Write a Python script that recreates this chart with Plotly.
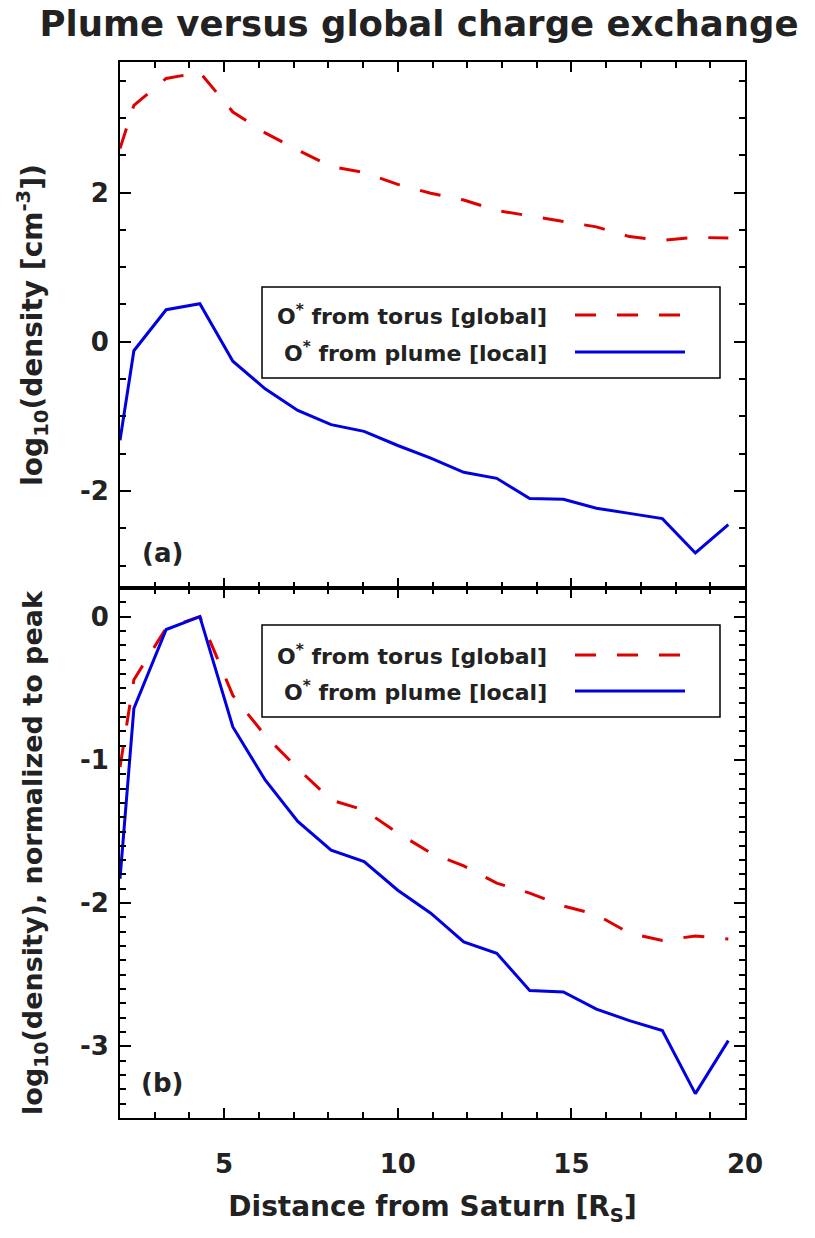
import plotly.graph_objects as go

# ---------------- data ----------------
distance = [2.0, 2.4, 3.33, 4.3, 5.25, 6.18, 7.12, 8.08, 9.03, 10.0,
            10.95, 11.9, 12.85, 13.8, 14.77, 15.72, 16.67, 17.62, 18.57, 19.52]

torus_log_density = [2.59, 3.17, 3.53, 3.61, 3.08, 2.80, 2.57, 2.35, 2.27, 2.11,
                     1.99, 1.90, 1.76, 1.69, 1.61, 1.54, 1.41, 1.36, 1.40, 1.39]
plume_log_density = [-1.32, -0.12, 0.43, 0.51, -0.26, -0.63, -0.92, -1.11, -1.20, -1.39,
                     -1.56, -1.75, -1.83, -2.10, -2.11, -2.23, -2.30, -2.37, -2.83, -2.45]

torus_normalized = [-1.05, -0.44, -0.08, 0.0, -0.55, -0.83, -1.06, -1.28, -1.35, -1.51,
                    -1.65, -1.74, -1.86, -1.93, -2.02, -2.08, -2.21, -2.26, -2.23, -2.25]
plume_normalized = [-1.83, -0.64, -0.09, 0.0, -0.77, -1.14, -1.43, -1.63, -1.71, -1.91,
                    -2.07, -2.27, -2.35, -2.61, -2.62, -2.74, -2.82, -2.89, -3.33, -2.96]

series_names = ["O<sup>*</sup> from torus [global]", "O<sup>*</sup> from plume [local]"]
x_ticks = [5, 10, 15, 20]
y_ticks_top = [-2, 0, 2]
y_ticks_bottom = [-3, -2, -1, 0]

# ---------------- layout geometry (page pixels) ----------------
W, H = 815, 1238
L, R, T, B = 120, 745, 62, 1118
PW, PH = R - L, B - T
SPLIT = 588
split_frac = (B - SPLIT) / PH

RED = "#e00000"
BLUE = "#0000e0"
TXT = "#222222"
FONT = "DejaVu Sans, Verdana, sans-serif"
DASH = "21px,21px"


def px(xp):
    return (xp - L) / PW


def py(yp):
    return (B - yp) / PH


def lab(v):
    return f"<b>{v}</b>"


fig = go.Figure()

fig.add_trace(go.Scatter(x=distance, y=torus_log_density, mode="lines",
                         line=dict(color=RED, width=3, dash=DASH),
                         xaxis="x", yaxis="y", name=series_names[0], showlegend=False))
fig.add_trace(go.Scatter(x=distance, y=plume_log_density, mode="lines",
                         line=dict(color=BLUE, width=3),
                         xaxis="x", yaxis="y", name=series_names[1], showlegend=False))
fig.add_trace(go.Scatter(x=distance, y=torus_normalized, mode="lines",
                         line=dict(color=RED, width=3, dash=DASH),
                         xaxis="x2", yaxis="y2", name=series_names[0], showlegend=False))
fig.add_trace(go.Scatter(x=distance, y=plume_normalized, mode="lines",
                         line=dict(color=BLUE, width=3),
                         xaxis="x2", yaxis="y2", name=series_names[1], showlegend=False))

tickfont = dict(family=FONT, size=26, color=TXT)
common_axis = dict(showline=True, linecolor="black", linewidth=2, mirror="ticks",
                   ticks="inside", tickwidth=2, tickcolor="black", showgrid=False,
                   zeroline=False, tickfont=tickfont, automargin=False)
title_font = dict(family=FONT, size=28, color=TXT)

fig.update_layout(
    width=W, height=H,
    margin=dict(l=L, r=W - R, t=T, b=H - B, autoexpand=False),
    paper_bgcolor="white", plot_bgcolor="white",
    showlegend=False,
    title=dict(text="<b>Plume versus global charge exchange</b>",
               x=419 / W, xanchor="center", y=1 - 24 / H, yanchor="middle",
               font=dict(family=FONT, size=35.5, color=TXT)),
    xaxis=dict(domain=[0, 1], range=[2, 20], anchor="y", showticklabels=False,
               tickvals=x_ticks, ticklen=10,
               minor=dict(dtick=1, tick0=0, ticklen=6, tickwidth=2, ticks="inside",
                          tickcolor="black"),
               **common_axis),
    yaxis=dict(domain=[split_frac, 1], range=[-3.3, 3.75], anchor="x",
               tickvals=y_ticks_top, ticktext=[lab(v) for v in y_ticks_top],
               ticklen=11, ticklabelstandoff=4,
               minor=dict(dtick=0.5, tick0=0, ticklen=6, tickwidth=2, ticks="inside",
                          tickcolor="black"),
               title=dict(text="<b>log<sub>10</sub>(density [cm<sup>-3</sup>])</b>",
                         font=title_font, standoff=29),
               **common_axis),
    xaxis2=dict(domain=[0, 1], range=[2, 20], anchor="y2", matches="x",
                tickvals=x_ticks, ticktext=[lab(v) for v in x_ticks],
                ticklen=10, ticklabelstandoff=22,
                minor=dict(dtick=1, tick0=0, ticklen=6, tickwidth=2, ticks="inside",
                           tickcolor="black"),
                title=dict(text="<b>Distance from Saturn [R<sub>S</sub>]</b>",
                           font=title_font, standoff=18),
                **common_axis),
    yaxis2=dict(domain=[0, split_frac], range=[-3.5, 0.2], anchor="x2",
                tickvals=y_ticks_bottom, ticktext=[lab(v) for v in y_ticks_bottom],
                ticklen=11, ticklabelstandoff=4,
                minor=dict(dtick=0.1, tick0=0, ticklen=6, tickwidth=2, ticks="inside",
                           tickcolor="black"),
                title=dict(text="<b>log<sub>10</sub>(density), normalized to peak</b>",
                           font=dict(family=FONT, size=27, color=TXT), standoff=29),
                **common_axis),
)

# panel letters
for label, ypix in [("(a)", 553), ("(b)", 1083)]:
    fig.add_annotation(text=f"<b>{label}</b>", x=px(162), y=py(ypix),
                       xref="paper", yref="paper", showarrow=False,
                       xanchor="center", yanchor="middle",
                       font=dict(family=FONT, size=26, color=TXT))

# hand-drawn legend boxes (text right-aligned, line samples on the right)
for (bx0, by0, bx1, by1, rows) in [(262, 287, 720, 378, (315, 352)),
                                   (262, 625, 720, 717, (655, 691))]:
    fig.add_shape(type="rect", xref="paper", yref="paper",
                  x0=px(bx0), x1=px(bx1), y0=py(by1), y1=py(by0),
                  line=dict(color="black", width=1.5), fillcolor="white", layer="below")
    for name, color, dash, ry in [(series_names[0], RED, DASH, rows[0]),
                                  (series_names[1], BLUE, "solid", rows[1])]:
        fig.add_annotation(text=f"<b>{name}</b>", x=px(549), y=py(ry),
                           xref="paper", yref="paper", showarrow=False,
                           xanchor="right", yanchor="middle",
                           font=dict(family=FONT, size=22, color=TXT))
        fig.add_shape(type="line", xref="paper", yref="paper",
                      x0=px(575), x1=px(685), y0=py(ry), y1=py(ry),
                      line=dict(color=color, width=3, dash=dash))

# remove the browser's default page margin so the figure sits at the window origin
fig.write_html("out.html",
               config={"displayModeBar": False},
               post_script="document.body.style.margin='0';document.body.style.overflow='hidden';")
